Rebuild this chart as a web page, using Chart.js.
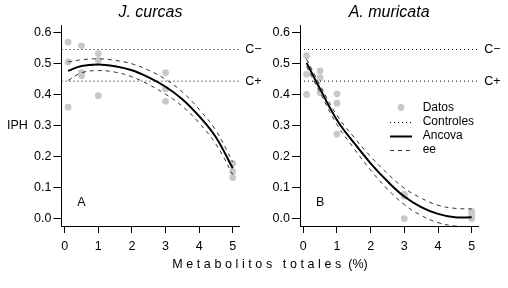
<!DOCTYPE html>
<html>
<head>
<meta charset="utf-8">
<script src="https://cdn.jsdelivr.net/npm/chart.js@4.4.1/dist/chart.umd.min.js"></script>
<style>
  html, body { margin: 0; padding: 0; background: #fff; }
  #wrap { position: relative; width: 508px; height: 288px; overflow: hidden; }
  canvas { position: absolute; top: 0; }
  #left { left: 0; }
  #right { left: 250px; }
</style>
</head>
<body>
<div id="wrap">
  <canvas id="left" width="508" height="288"></canvas>
  <canvas id="right" width="258" height="288"></canvas>
</div>
<script>
const xTicks = [0, 1, 2, 3, 4, 5];
const yTicks = [0, 0.1, 0.2, 0.3, 0.4, 0.5, 0.6];
const xRange = [-0.096, 5.196];
const yRange = [-0.024, 0.624];

// controls (dotted lines)
const controlNeg = 0.545;
const controlPos = 0.443;

// observed points, three per dose
const pointX = [0.1, 0.1, 0.1, 0.5, 0.5, 0.5, 1, 1, 1, 3, 3, 3, 5, 5, 5];
const jcY = [0.569, 0.505, 0.359, 0.557, 0.470, 0.460, 0.532, 0.510, 0.396, 0.470, 0.418, 0.378, 0.178, 0.151, 0.132];
const amY = [0.525, 0.465, 0.400, 0.476, 0.454, 0.406, 0.402, 0.372, 0.272, 0.078, 0.072, 0.000, 0.023, 0.013, 0.000];

// ancova fit and standard error band
const fitX = [0.1, 0.5, 1, 1.5, 2, 2.5, 3, 3.5, 4, 4.5, 5];
const jcFit = [0.476, 0.492, 0.497, 0.491, 0.478, 0.455, 0.425, 0.385, 0.330, 0.262, 0.162];
const jcUpper = [0.505, 0.512, 0.515, 0.510, 0.499, 0.478, 0.449, 0.408, 0.352, 0.284, 0.182];
const jcLower = [0.445, 0.470, 0.477, 0.472, 0.457, 0.432, 0.401, 0.362, 0.308, 0.240, 0.142];
const amFit = [0.502, 0.418, 0.318, 0.245, 0.178, 0.120, 0.071, 0.037, 0.015, 0.004, 0.004];
const amUpper = [0.514, 0.430, 0.333, 0.263, 0.200, 0.145, 0.098, 0.066, 0.043, 0.033, 0.031];
const amLower = [0.490, 0.406, 0.303, 0.227, 0.156, 0.095, 0.045, 0.010, -0.013, -0.024, -0.026];

const legendLabels = ['Datos', 'Controles', 'Ancova', 'ee'];

const FONT = '"Liberation Sans", Arial, Helvetica, sans-serif';

function toXY(xs, ys) {
  return xs.map((x, i) => ({ x: x, y: ys[i] }));
}

function panelDatasets(ptsY, fit, upper, lower) {
  const dotted = { borderColor: '#000', borderWidth: 1, borderDash: [1, 3], pointRadius: 0, order: 3 };
  const dashed = { borderColor: '#333', borderWidth: 1, borderDash: [4, 4], pointRadius: 0, tension: 0.4, order: 2 };
  return [
    { label: 'Datos', data: toXY(pointX, ptsY), showLine: false, pointRadius: 3.4,
      pointBackgroundColor: '#c8c8c8', pointBorderWidth: 0, order: 4 },
    Object.assign({ label: 'C−', data: toXY(xRange, [controlNeg, controlNeg]) }, dotted),
    Object.assign({ label: 'C+', data: toXY(xRange, [controlPos, controlPos]) }, dotted),
    Object.assign({ label: 'ee', data: toXY(fitX, upper) }, dashed),
    Object.assign({ label: 'ee', data: toXY(fitX, lower) }, dashed),
    { label: 'Ancova', data: toXY(fitX, fit), borderColor: '#000', borderWidth: 2,
      pointRadius: 0, tension: 0.4, order: 1 }
  ];
}

const panelText = {
  id: 'panelText',
  afterDraw(chart, args, o) {
    const ctx = chart.ctx;
    const area = chart.chartArea;
    const xs = chart.scales.x, ys = chart.scales.y;
    ctx.save();
    ctx.fillStyle = '#000';
    ctx.textBaseline = 'middle';

    ctx.font = 'italic 16px ' + FONT;
    ctx.textAlign = 'center';
    ctx.fillText(o.title, (area.left + area.right) / 2, 13);

    ctx.font = '12.5px ' + FONT;
    ctx.textAlign = 'left';
    ctx.fillText('C\u2212', area.right + 6, ys.getPixelForValue(controlNeg));
    ctx.fillText('C+', area.right + 6, ys.getPixelForValue(controlPos));

    ctx.textAlign = 'center';
    ctx.fillText(o.letter, xs.getPixelForValue(0.5), ys.getPixelForValue(0.05));

    if (o.yTitle) {
      ctx.textAlign = 'left';
      ctx.fillText(o.yTitle, 7, ys.getPixelForValue(0.3));
    }

    if (o.xTitle) {
      // spaced-out axis title, spans both panels
      const spaced = o.xTitle[0], plain = o.xTitle[1], ls = 3.6;
      let w = ctx.measureText(plain).width;
      for (const ch of spaced) w += ctx.measureText(ch).width + ls;
      let x = 270 - w / 2;
      ctx.textAlign = 'left';
      for (const ch of spaced) {
        ctx.fillText(ch, x, 265);
        x += ctx.measureText(ch).width + ls;
      }
      ctx.fillText(plain, x, 265);
    }

    if (o.legend) {
      const ds = chart.data.datasets;
      const styles = [ds[0], ds[1], ds[5], ds[3]];
      const x0 = area.left + 90, x1 = area.left + 112, tx = area.left + 122.7;
      ctx.font = '12px ' + FONT;
      ctx.textAlign = 'left';
      legendLabels.forEach((lab, i) => {
        const y = 107.5 + i * 14;
        const s = styles[i];
        if (i === 0) {
          ctx.fillStyle = s.pointBackgroundColor;
          ctx.beginPath();
          ctx.arc((x0 + x1) / 2, y, s.pointRadius, 0, Math.PI * 2);
          ctx.fill();
        } else {
          ctx.strokeStyle = s.borderColor;
          ctx.lineWidth = s.borderWidth;
          ctx.setLineDash(s.borderDash || []);
          ctx.beginPath();
          ctx.moveTo(x0, Math.round(y) + 0.5);
          ctx.lineTo(x1, Math.round(y) + 0.5);
          ctx.stroke();
          ctx.setLineDash([]);
        }
        ctx.fillStyle = '#000';
        ctx.fillText(lab, tx, y);
      });
    }
    ctx.restore();
  }
};

function makeChart(id, yWidth, padRight, datasets, textOpts) {
  return new Chart(document.getElementById(id), {
    type: 'line',
    data: { datasets: datasets },
    plugins: [panelText],
    options: {
      responsive: false,
      animation: false,
      devicePixelRatio: 1,
      layout: { padding: { left: 0, top: 25, right: padRight, bottom: 0 } },
      elements: { line: { clip: 0 } },
      plugins: {
        legend: { display: false },
        tooltip: { enabled: false },
        panelText: textOpts
      },
      scales: {
        x: {
          type: 'linear',
          min: xRange[0], max: xRange[1],
          afterBuildTicks: (axis) => { axis.ticks = xTicks.map(v => ({ value: v })); },
          afterFit: (axis) => { axis.height = 62; },
          grid: { drawOnChartArea: false, drawTicks: true, tickLength: 7, color: '#000', lineWidth: 1 },
          border: { display: true, color: '#000', width: 1 },
          ticks: { color: '#000', font: { family: FONT, size: 12.5 }, padding: 6, maxRotation: 0,
                   callback: (v) => String(v) }
        },
        y: {
          type: 'linear',
          min: yRange[0], max: yRange[1],
          afterBuildTicks: (axis) => { axis.ticks = yTicks.map(v => ({ value: v })); },
          afterFit: (axis) => { axis.width = yWidth; },
          grid: { drawOnChartArea: false, drawTicks: true, tickLength: 8, color: '#000', lineWidth: 1 },
          border: { display: true, color: '#000', width: 1 },
          ticks: { color: '#000', font: { family: FONT, size: 12.5 }, padding: 2,
                   callback: (v) => Number(v).toFixed(1) }
        }
      }
    }
  });
}

makeChart('left', 61.5, 508 - 239.3, panelDatasets(jcY, jcFit, jcUpper, jcLower),
  { title: 'J. curcas', letter: 'A', yTitle: 'IPH', xTitle: ['Metabolitos totales', ' (%)'] });
makeChart('right', 50, 258 - 228.3, panelDatasets(amY, amFit, amUpper, amLower),
  { title: 'A. muricata', letter: 'B', legend: true });
</script>
</body>
</html>
